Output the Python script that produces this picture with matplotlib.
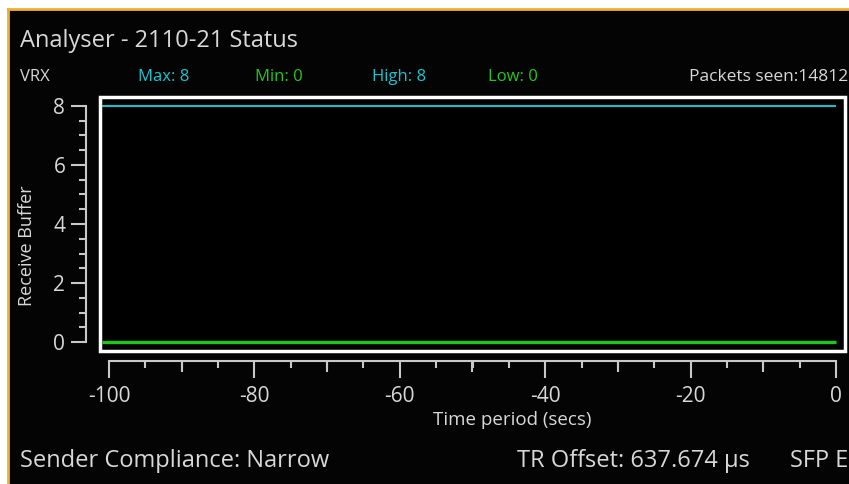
import matplotlib
matplotlib.use("Agg")
import matplotlib.pyplot as plt
from matplotlib.patches import Rectangle
from matplotlib.ticker import MultipleLocator

# receive buffer history over the last 100 s
time_secs = [-101, 0]
buffer_max = [8, 8]
buffer_min = [0, 0]

stats = [("VRX", "#d8d8d8"), ("Max: 8", "#18c4d0"), ("Min: 0", "#22c81e"),
         ("High: 8", "#18c4d0"), ("Low: 0", "#22c81e")]
stats_x = [20, 138, 255, 372, 488]
packets_label = "Packets seen:14812"
title = "Analyser - 2110-21 Status"
footer = ["Sender Compliance: Narrow", "TR Offset: 637.674 \u03bcs", "SFP E"]
footer_x = [20, 517, 790]
mid_ticks = [-90, -70, -50, -30, -10]

plt.rcParams["font.family"] = ["Open Sans", "DejaVu Sans"]
plt.rcParams["axes.unicode_minus"] = False

W, H = 849, 484
TXT = "#d8d8d8"
TICK = "#c8c8c8"
fig = plt.figure(figsize=(W / 100, H / 100), dpi=100)
fig.patch.set_facecolor("white")


def fx(px):
    return px / W


def fy(py):
    return 1 - py / H


# black panel with orange edge
panel = Rectangle((fx(9), 0), 1 - fx(9), fy(9), transform=fig.transFigure,
                  facecolor="#040404", edgecolor="none", zorder=-10)
fig.add_artist(panel)
fig.add_artist(plt.Line2D([fx(8), 1], [fy(9), fy(9)], color="#f0b030", lw=2, zorder=-5))
fig.add_artist(plt.Line2D([fx(8), fx(8)], [0, fy(9)], color="#f0b030", lw=2, zorder=-5))

ax = fig.add_axes([fx(100), fy(351), fx(845) - fx(100), (351 - 97) / H])
ax.set_facecolor("#000000")
ax.plot(time_secs, buffer_max, color="#1cbcc8", lw=1.5, solid_capstyle="butt")
ax.plot(time_secs, buffer_min, color="#1ec81a", lw=2.4, solid_capstyle="butt")
ax.set_xlim(-101.24, 1.24)
ax.set_ylim(-0.305, 8.305)

# white frame around the plot area
ax.add_patch(Rectangle((0, 0), 1, 1, transform=ax.transAxes, fill=False,
                       edgecolor="white", lw=2.5, clip_on=False, zorder=5))

for s in ("top", "right"):
    ax.spines[s].set_visible(False)
ax.spines["left"].set_position(("outward", 10))
ax.spines["left"].set_bounds(0, 8)
ax.spines["bottom"].set_position(("outward", 7))
ax.spines["bottom"].set_bounds(-100, 0)
for s in ("left", "bottom"):
    ax.spines[s].set_color(TICK)
    ax.spines[s].set_linewidth(1.5)

ax.yaxis.set_major_locator(MultipleLocator(2))
ax.yaxis.set_minor_locator(MultipleLocator(0.5))
ax.xaxis.set_major_locator(MultipleLocator(20))
ax.xaxis.set_minor_locator(MultipleLocator(5))
ax.tick_params(axis="y", which="major", length=11, width=1.5, color=TICK,
               labelcolor=TXT, labelsize=15, pad=4)
ax.tick_params(axis="y", which="minor", length=5, width=1.5, color=TICK)
ax.tick_params(axis="x", which="major", length=12, width=1.5, color=TICK,
               labelcolor=TXT, labelsize=15, pad=6)
ax.tick_params(axis="x", which="minor", length=5, width=1.5, color=TICK)

# medium-length ticks every 10 s on a twin axis
ax2 = ax.twiny()
ax2.set_xlim(ax.get_xlim())
ax2.xaxis.set_ticks_position("bottom")
ax2.spines["bottom"].set_position(("outward", 7))
for s in ax2.spines.values():
    s.set_visible(False)
ax2.set_xticks(mid_ticks)
ax2.tick_params(axis="x", length=8, width=1.5, color=TICK, labelbottom=False,
                labeltop=False)
ax2.patch.set_visible(False)

ax.set_ylabel("Receive Buffer", color=TXT, fontsize=13)
ax.yaxis.set_label_coords(-0.086, 0.413)
ax.set_xlabel("Time period (secs)", color=TXT, fontsize=13.5)
ax.xaxis.set_label_coords(0.554, -0.235)

fig.text(fx(20), fy(41), title, color=TXT, fontsize=17, va="center", ha="left")
for (label, col), x in zip(stats, stats_x):
    fig.text(fx(x), fy(77), label, color=col, fontsize=12, va="center", ha="left")
fig.text(fx(848), fy(77), packets_label, color=TXT, fontsize=12.5, va="center", ha="right")
for label, x in zip(footer, footer_x):
    fig.text(fx(x), fy(461), label, color=TXT, fontsize=17, va="center", ha="left")

fig.savefig("out.png", dpi=100, facecolor=fig.get_facecolor())
